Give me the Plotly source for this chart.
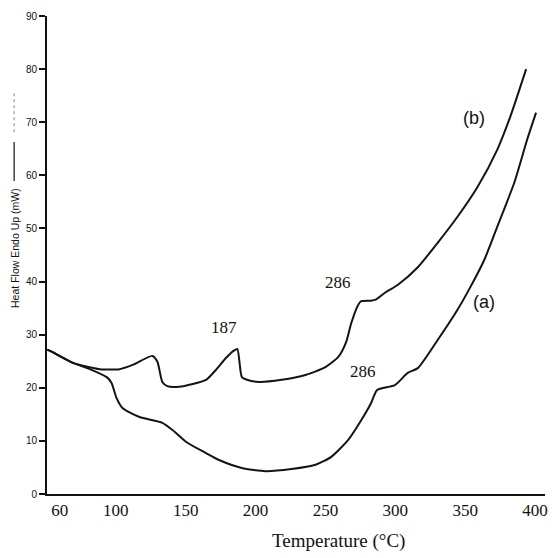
import plotly.graph_objects as go

# DSC heating curves: temperature (°C) vs heat flow (mW)
temp_b = [51.0, 54.1, 69.3, 88.5, 102.7, 112.0, 126.2, 129.8, 133.3, 136.9, 145.4, 164.6,
          171.7, 178.8, 184.5, 187.0, 190.2, 193.8, 202.4, 218.7, 235.7, 250.0, 259.2,
          264.8, 268.5, 273.4, 275.6, 282.4, 286.0, 292.6, 301.9, 316.1, 330.3, 344.5,
          358.8, 372.9, 382.2, 393.6]
flow_b = [27.2, 26.8, 24.7, 23.5, 23.5, 24.3, 26.0, 24.9, 21.1, 20.3, 20.2, 21.5,
          23.4, 25.6, 27.0, 27.3, 22.0, 21.5, 21.1, 21.5, 22.4, 23.9, 25.8,
          28.6, 32.2, 35.6, 36.3, 36.4, 36.6, 37.9, 39.4, 42.7, 47.3, 52.2,
          57.8, 64.8, 71.0, 80.0]

temp_a = [51.0, 54.1, 69.3, 81.4, 93.5, 97.0, 100.5, 104.8, 117.0, 133.3, 140.4, 150.4,
          164.6, 173.9, 190.2, 207.3, 225.7, 242.9, 254.2, 266.3, 275.6, 282.6, 287.0,
          299.7, 308.9, 316.1, 330.3, 344.5, 353.8, 363.7, 372.9, 385.1, 394.3, 400.7]
flow_a = [27.2, 26.8, 24.7, 23.5, 22.0, 20.9, 18.1, 16.2, 14.5, 13.4, 12.1, 9.8,
          7.7, 6.4, 4.9, 4.3, 4.7, 5.5, 7.0, 10.2, 13.9, 17.1, 19.6,
          20.5, 22.8, 23.7, 29.0, 34.7, 39.0, 44.1, 50.3, 58.6, 66.7, 71.8]

x_ticks = [60, 100, 150, 200, 250, 300, 350, 400]
y_ticks = [0, 10, 20, 30, 40, 50, 60, 70, 80, 90]

SERIF = "Liberation Serif, Times New Roman, serif"
SANS = "Liberation Sans, Arial, sans-serif"

# text labels: (text, temperature, heat flow, font family, size)
labels = [
    ("187", 177.4, 31.4, SERIF, 17),
    ("286", 259.2, 39.9, SERIF, 17),
    ("286", 277.0, 23.0, SERIF, 17),
    ("(b)", 356.6, 70.8, SANS, 18),
    ("(a)", 363.8, 36.2, SANS, 18),
]

line_style = dict(color="#141414", width=2, shape="spline", smoothing=0.6)

fig = go.Figure()
fig.add_trace(go.Scatter(x=temp_b, y=flow_b, mode="lines", line=line_style, name="(b)"))
fig.add_trace(go.Scatter(x=temp_a, y=flow_a, mode="lines", line=line_style, name="(a)"))

for text, tx, ty, fam, size in labels:
    fig.add_annotation(x=tx, y=ty, text=text, showarrow=False,
                       font=dict(family=fam, size=size, color="#111111"))

# x-axis title
fig.add_annotation(xref="paper", yref="paper", x=0.585, y=-0.098, yanchor="middle",
                   text="Temperature (°C)", showarrow=False,
                   font=dict(family=SERIF, size=19, color="#111111"))
# y-axis title with its line keys
fig.add_annotation(xref="paper", yref="paper", x=-0.064, y=0.515, xanchor="center",
                   yanchor="middle", textangle=-90,
                   text="Heat Flow Endo Up (mW)", showarrow=False,
                   font=dict(family=SANS, size=10.5, color="#111111"))
fig.add_shape(type="line", xref="paper", yref="paper", x0=-0.066, x1=-0.066,
              y0=0.655, y1=0.7364, line=dict(color="#111111", width=1.2))
fig.add_shape(type="line", xref="paper", yref="paper", x0=-0.066, x1=-0.066,
              y0=0.757, y1=0.841, line=dict(color="#9a9a9a", width=1.2, dash="dot"))

fig.update_layout(
    width=554, height=558,
    margin=dict(l=47, r=6, t=16, b=64),
    paper_bgcolor="white", plot_bgcolor="white",
    showlegend=False,
    xaxis=dict(range=[50.8, 407.1], tickvals=x_ticks, showgrid=False, zeroline=False,
               showline=True, linecolor="#111111", linewidth=2, ticks="",
               ticklabeloverflow="allow",
               tickfont=dict(family=SERIF, size=17, color="#111111")),
    yaxis=dict(range=[0, 90], tickvals=y_ticks, showgrid=False, zeroline=False,
               showline=True, linecolor="#111111", linewidth=2, ticks="outside",
               ticklen=6, tickwidth=1.5, tickcolor="#111111",
               tickfont=dict(family=SANS, size=10, color="#111111")),
)

fig.write_html("out.html")
